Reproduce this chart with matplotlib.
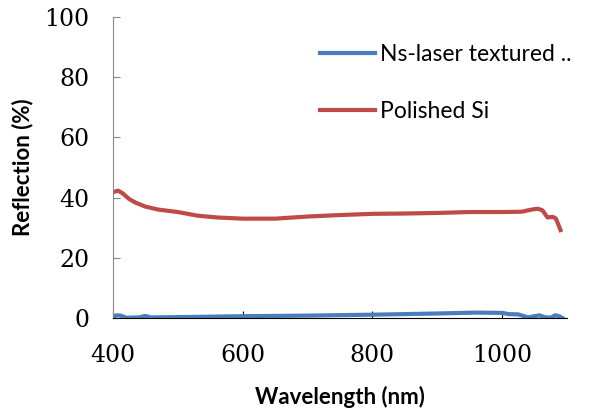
import matplotlib.pyplot as plt

# wavelength (nm) and reflection (%)
wl_polished = [400, 408, 415, 425, 435, 450, 470, 500, 530, 560, 600, 650, 700,
               750, 800, 850, 900, 950, 1000, 1030, 1045, 1055, 1062, 1070,
               1078, 1083, 1090]
r_polished = [41.8, 42.3, 41.4, 39.5, 38.3, 37.0, 36.0, 35.2, 34.0, 33.4, 33.0,
              33.0, 33.7, 34.2, 34.6, 34.7, 34.9, 35.2, 35.2, 35.3, 36.0, 36.3,
              35.8, 33.4, 33.6, 33.0, 29.2]

wl_textured = [400, 405, 412, 420, 440, 450, 458, 500, 600, 700, 800, 900, 960,
               1000, 1010, 1025, 1040, 1050, 1058, 1065, 1075, 1082, 1088, 1093]
r_textured = [0.3, 0.9, 0.8, 0.1, 0.2, 0.7, 0.2, 0.3, 0.6, 0.8, 1.1, 1.5, 1.8,
              1.7, 1.3, 1.2, 0.2, 0.6, 0.9, 0.3, 0.1, 0.9, 0.6, 0.0]

labels = ["Ns-laser textured ..", "Polished Si"]
blue = "#4A7EBB"
red = "#BE4B48"

fig = plt.figure(figsize=(5.9, 4.13), dpi=100)
ax = fig.add_axes([0.1915, 0.23, 0.7695, 0.729])

ax.plot(wl_textured, r_textured, color=blue, lw=3, label=labels[0])
ax.plot(wl_polished, r_polished, color=red, lw=3, label=labels[1])

ax.set_xlim(400, 1100)
ax.set_ylim(0, 100)
ax.set_xticks([400, 600, 800, 1000])
ax.set_yticks(range(0, 101, 20))

ax.spines["top"].set_visible(False)
ax.spines["right"].set_visible(False)
ax.spines["left"].set_color("#888888")
ax.spines["bottom"].set_color("black")
ax.tick_params(axis="both", direction="in", length=5, labelsize=17)
ax.tick_params(axis="y", pad=17, color="#888888")
ax.tick_params(axis="x", pad=19)
for t in ax.get_xticklabels() + ax.get_yticklabels():
    t.set_family("DejaVu Serif")

ax.set_xlabel("Wavelength (nm)", family="Lato", weight="bold", fontsize=16,
              labelpad=13)
ax.set_ylabel("Reflection (%)", family="Lato", weight="bold", fontsize=16,
              labelpad=8)

ax.legend(loc="upper left", bbox_to_anchor=(0.508, 0.944),
          bbox_transform=fig.transFigure, frameon=False,
          prop={"family": "Lato", "size": 16.5}, handlelength=2.4,
          handletextpad=0.22, labelspacing=1.6)

fig.savefig("out.png", dpi=100)
